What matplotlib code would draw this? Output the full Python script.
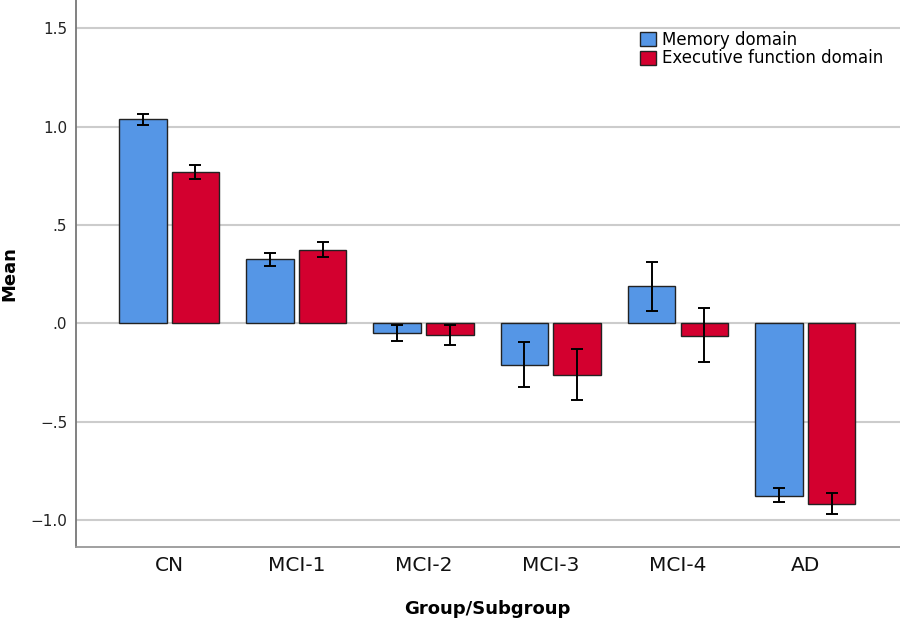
import matplotlib

matplotlib.use("Agg")
import matplotlib.pyplot as plt
import numpy as np
from matplotlib.ticker import FixedLocator, FuncFormatter

groups = ["CN", "MCI-1", "MCI-2", "MCI-3", "MCI-4", "AD"]
series = ["Memory domain", "Executive function domain"]

memory_mean = [1.037, 0.327, -0.048, -0.212, 0.188, -0.876]
memory_lo = [1.007, 0.293, -0.088, -0.325, 0.064, -0.910]
memory_hi = [1.063, 0.359, -0.007, -0.097, 0.312, -0.839]

exec_mean = [0.768, 0.374, -0.060, -0.261, -0.063, -0.917]
exec_lo = [0.734, 0.339, -0.112, -0.392, -0.197, -0.970]
exec_hi = [0.803, 0.413, -0.008, -0.129, 0.078, -0.863]

y_ticks = [-1.0, -0.5, 0.0, 0.5, 1.0, 1.5]

BLUE = "#5596e6"
RED = "#d3002f"

plt.rcParams["font.family"] = ["DejaVu Sans"]

fig = plt.figure(figsize=(9, 6.22), dpi=100)
ax = fig.add_axes([0.084, 0.121, 0.916, 0.879])

x = np.arange(len(groups))
w = 0.373
off = 0.207

for xs, mean, lo, hi, color, label in [
    (x - off, memory_mean, memory_lo, memory_hi, BLUE, series[0]),
    (x + off, exec_mean, exec_lo, exec_hi, RED, series[1]),
]:
    mean = np.array(mean)
    err = np.vstack([mean - np.array(lo), np.array(hi) - mean])
    ax.bar(xs, mean, width=w, color=color, edgecolor="#222222",
           linewidth=1.0, label=label, zorder=2)
    ax.errorbar(xs, mean, yerr=err, fmt="none", ecolor="black",
                elinewidth=1.4, capsize=4, capthick=1.4, zorder=3)

ax.set_xlim(-0.735, 5.745)
ax.set_ylim(-1.136, 1.644)

ax.yaxis.set_major_locator(FixedLocator(y_ticks))


def fmt(v, _):
    s = f"{abs(v):.1f}"
    if abs(v) < 1:
        s = s[1:]
    return ("\u2212" if v < 0 else "") + s


ax.yaxis.set_major_formatter(FuncFormatter(fmt))
ax.set_xticks(x)
ax.set_xticklabels(groups, fontsize=14.5)
ax.tick_params(axis="y", length=0, labelsize=11, pad=6, colors="#222222")
ax.tick_params(axis="x", length=0, pad=7, colors="#111111")

ax.grid(axis="y", color="#cccccc", linewidth=1.5, zorder=0)
ax.set_axisbelow(True)

for side in ["top", "right"]:
    ax.spines[side].set_visible(False)
ax.spines["left"].set_color("#777777")
ax.spines["left"].set_linewidth(1.3)
ax.spines["bottom"].set_color("#999999")
ax.spines["bottom"].set_linewidth(1.3)

ax.set_xlabel("Group/Subgroup", fontsize=13, fontweight="bold")
ax.xaxis.set_label_coords(0.5, -0.097)
ax.set_ylabel("Mean", fontsize=13, fontweight="bold")
ax.yaxis.set_label_coords(-0.070, 0.5)

ax.legend(loc="upper left", bbox_to_anchor=(0.685, 0.944), frameon=False,
          fontsize=12, handlelength=0.95, handleheight=0.9,
          handletextpad=0.38, labelspacing=0.05, borderaxespad=0,
          borderpad=0)

fig.savefig("out.png", dpi=100)
